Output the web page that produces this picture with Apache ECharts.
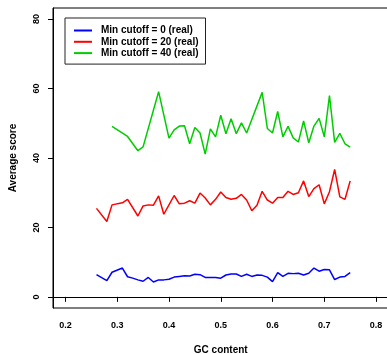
<!DOCTYPE html>
<html>
<head>
<meta charset="utf-8">
<script src="https://cdn.jsdelivr.net/npm/echarts@6/dist/echarts.min.js"></script>
<style>
  html, body { margin: 0; padding: 0; background: #fff; }
  #chart { width: 387px; height: 354px; }
</style>
</head>
<body>
<div id="chart"></div>
<script>
// data
const gcBlue = [0.26, 0.28, 0.29, 0.31, 0.32, 0.33, 0.34, 0.35, 0.36, 0.37, 0.38, 0.39, 0.40,
  0.41, 0.42, 0.43, 0.44, 0.45, 0.46, 0.47, 0.48, 0.49, 0.50, 0.51, 0.52, 0.53, 0.54, 0.55,
  0.56, 0.57, 0.58, 0.59, 0.60, 0.61, 0.62, 0.63, 0.64, 0.65, 0.66, 0.67, 0.68, 0.69, 0.70,
  0.71, 0.72, 0.73, 0.74, 0.75];
const scoreBlue = [6.4, 4.7, 7.1, 8.3, 5.8, 5.4, 4.9, 4.5, 5.6, 4.3, 4.9, 4.9, 5.1,
  5.7, 5.9, 6.1, 6.0, 6.5, 6.4, 5.6, 5.6, 5.6, 5.4, 6.3, 6.6, 6.6, 5.9, 6.5,
  5.9, 6.3, 6.2, 5.7, 4.4, 7.0, 5.9, 6.8, 6.7, 6.8, 6.3, 6.8, 8.3, 7.4, 7.9,
  7.8, 5.0, 5.7, 5.9, 7.0];

const gcRed = [0.26, 0.28, 0.29, 0.31, 0.32, 0.34, 0.35, 0.36, 0.37, 0.38, 0.39, 0.40,
  0.41, 0.42, 0.43, 0.44, 0.45, 0.46, 0.47, 0.48, 0.49, 0.50, 0.51, 0.52, 0.53, 0.54, 0.55,
  0.56, 0.57, 0.58, 0.59, 0.60, 0.61, 0.62, 0.63, 0.64, 0.65, 0.66, 0.67, 0.68, 0.69, 0.70,
  0.71, 0.72, 0.73, 0.74, 0.75];
const scoreRed = [25.5, 21.7, 26.5, 27.1, 28.1, 23.3, 26.2, 26.5, 26.4, 29.1, 23.8, 26.5,
  29.2, 26.8, 27.0, 27.7, 27.0, 29.9, 28.5, 26.5, 28.1, 30.2, 28.6, 28.1, 28.4, 29.5, 27.9,
  24.8, 26.4, 30.4, 27.9, 27.0, 28.6, 28.6, 30.4, 29.5, 30.0, 33.4, 28.9, 31.2, 32.3, 26.8,
  30.3, 36.7, 28.8, 28.1, 33.4];

const gcGreen = [0.29, 0.32, 0.34, 0.35, 0.38, 0.40,
  0.41, 0.42, 0.43, 0.44, 0.45, 0.46, 0.47, 0.48, 0.49, 0.50, 0.51, 0.52, 0.53, 0.54, 0.55,
  0.58, 0.59, 0.60, 0.61, 0.62, 0.63, 0.64, 0.65, 0.66, 0.67, 0.68, 0.69, 0.70,
  0.71, 0.72, 0.73, 0.74, 0.75];
const scoreGreen = [49.1, 46.2, 42.1, 43.2, 59.1, 45.7,
  48.1, 49.2, 49.3, 44.1, 48.8, 47.2, 41.1, 48.4, 46.1, 52.3, 47.0, 51.3, 47.0, 50.1, 47.2,
  58.9, 48.5, 47.2, 53.4, 46.1, 49.1, 45.8, 44.6, 50.7, 44.4, 49.2, 51.4, 46.1,
  58.0, 44.5, 47.1, 44.1, 43.1];

const xTicks = [0.2, 0.3, 0.4, 0.5, 0.6, 0.7, 0.8];
const yTicks = [0, 20, 40, 60, 80];
const seriesNames = ["Min cutoff = 0 (real)", "Min cutoff = 20 (real)", "Min cutoff = 40 (real)"];

const font = "'Liberation Sans', Arial, sans-serif";
const pairs = (xs, ys) => xs.map((x, i) => [x, ys[i]]);

const chart = echarts.init(document.getElementById("chart"));

const lineSeries = (name, xs, ys, color) => ({
  name: name,
  type: "line",
  data: pairs(xs, ys),
  symbol: "none",
  color: color,
  lineStyle: { color: color, width: 1.5 },
});

chart.setOption({
  animation: false,
  backgroundColor: "#fff",
  grid: {
    left: 53, top: 8, width: 335.5, height: 300,
    show: true, borderColor: "#000", borderWidth: 1,
    outerBoundsMode: "none",
  },
  legend: {
    orient: "vertical",
    left: 65, top: 18,
    padding: [7.5, 7, 6, 9],
    itemGap: 1.3,
    itemWidth: 18, itemHeight: 2,
    icon: "rect",
    borderColor: "#222", borderWidth: 1,
    data: seriesNames,
    textStyle: {
      fontFamily: font, fontSize: 10, fontWeight: "bold", color: "#000",
      lineHeight: 10, padding: [0, 0, 0, 4],
    },
  },
  xAxis: {
    type: "value",
    min: 0.176, max: 0.824,
    name: "GC content",
    nameLocation: "middle",
    nameGap: 37,
    nameTextStyle: { fontFamily: font, fontSize: 10, fontWeight: "bold", color: "#000" },
    axisLine: { show: true, lineStyle: { color: "#000", width: 1 } },
    axisTick: { customValues: xTicks, length: 5, lineStyle: { color: "#000" } },
    axisLabel: {
      customValues: xTicks, margin: 13,
      fontFamily: font, fontSize: 9, fontWeight: "bold", color: "#000",
      formatter: (v) => v.toFixed(1),
    },
    splitLine: { show: false },
  },
  yAxis: {
    type: "value",
    min: -3.2, max: 83.2,
    name: "Average score",
    nameLocation: "middle",
    nameGap: 35,
    nameTextStyle: { fontFamily: font, fontSize: 10, fontWeight: "bold", color: "#000" },
    axisLine: { show: true, lineStyle: { color: "#000", width: 1 } },
    axisTick: { customValues: yTicks, length: 5, lineStyle: { color: "#000" } },
    axisLabel: {
      customValues: yTicks, rotate: 90, margin: 12,
      fontFamily: font, fontSize: 9, fontWeight: "bold", color: "#000",
    },
    splitLine: { show: false },
  },
  series: [
    lineSeries(seriesNames[0], gcBlue, scoreBlue, "#0000ff"),
    lineSeries(seriesNames[1], gcRed, scoreRed, "#ff0000"),
    lineSeries(seriesNames[2], gcGreen, scoreGreen, "#00cd00"),
  ],
});
</script>
</body>
</html>
